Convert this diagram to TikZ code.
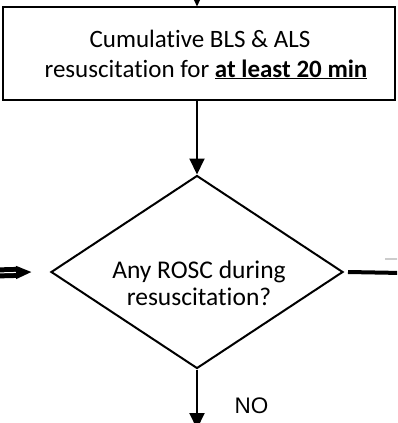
\documentclass[tikz,border=0pt]{standalone}
\usepackage{fontspec}
\setmainfont[Ligatures=NoCommon]{Carlito}
\newfontfamily\arialfont{Liberation Sans}
\usetikzlibrary{arrows.meta,shapes.geometric}
\begin{document}
\begin{tikzpicture}[x=1pt,y=-1pt,
  flowarrow/.style={line width=2pt,-{Triangle[width=15pt,length=16pt]}},
  boxstyle/.style={draw,line width=1.2pt,minimum width=392pt,minimum height=93pt,inner sep=0pt},
  decision/.style={draw,diamond,line width=2pt,minimum width=292pt,minimum height=193pt,inner sep=0pt},
  bigtext/.style={font=\fontsize{25.5}{30}\selectfont,align=center,inner sep=0pt},
  boxtext/.style={font=\fontsize{25}{30}\selectfont,align=center,inner sep=0pt}]
\useasboundingbox (0,0) rectangle (397,423);
\clip (0,0) rectangle (397,423);
% box
\node[boxstyle] (box) at (199,53.5) {};
\node[boxtext,anchor=base] (l1) at (200,47) {Cumulative BLS \& ALS};
\node[boxtext,anchor=base] (l2) at (206,77) {resuscitation for \textbf{\underline{at least 20 min}}};
% diamond
\node[decision] (dia) at (197,272) {};
\node[bigtext,anchor=base] (d1) at (199,278) {Any ROSC during};
\node[bigtext,anchor=base] (d2) at (199,305) {resuscitation?};
% NO
\node[font=\arialfont\fontsize{22.5}{26}\selectfont,anchor=base,inner sep=0pt] (no) at (251.5,413) {NO};
% connectors
\coordinate (topin) at (197,-40);
\draw[flowarrow] (topin) -- (box.north -| topin);
\draw[flowarrow] (box.south -| dia.north) -- (dia.north);
\coordinate (bottomout) at (197,429);
\draw[flowarrow] (dia.south) -- (bottomout);
\coordinate (leftin) at (-5,273);
\draw[line width=5pt,double=white,double distance=1pt,-{Triangle[width=12pt,length=16pt]}] (leftin) -- ([xshift=-18pt]dia.west);
\coordinate (rightout) at (402,273);
\draw[line width=4pt] ([xshift=4pt]dia.east) -- (rightout);
\coordinate (greya) at (385,259);
\coordinate (greyb) at (400,259);
\draw[line width=2pt,black!20] (greya) -- (greyb);
\end{tikzpicture}
\end{document}
